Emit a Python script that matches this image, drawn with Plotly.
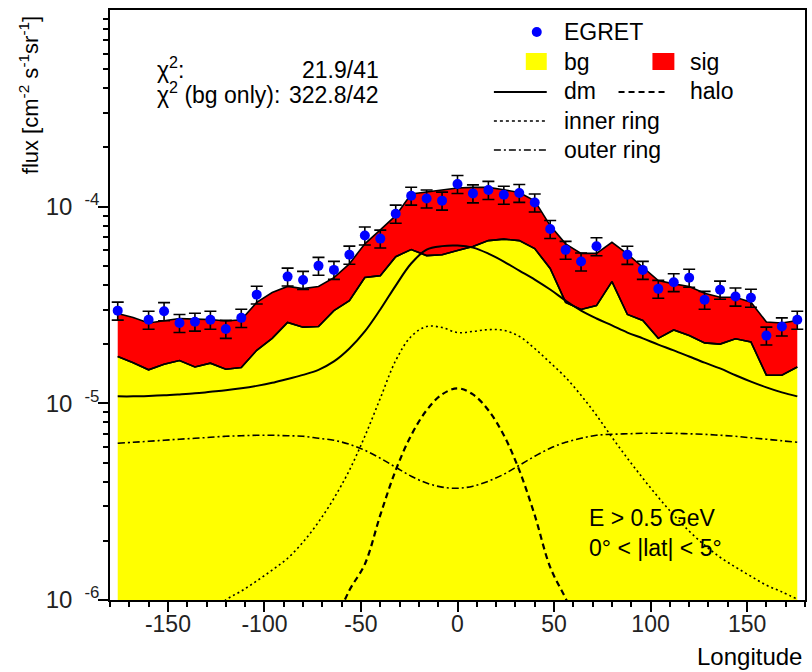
import plotly.graph_objects as go

# ---------------- data ----------------
X_MODEL = [-176, -168, -160, -152, -144, -136, -128, -120, -112, -104,
           -96, -88, -80, -72, -64, -56, -48, -40, -32, -24, -16, -8,
           0, 8, 16, 24, 32, 40, 48, 56, 64, 72, 80, 88,
           96, 104, 112, 120, 128, 136, 144, 152, 160, 168, 176]

TOTAL = [2.86e-5, 2.73e-5, 2.56e-5, 2.64e-5, 2.70e-5, 2.68e-5, 2.67e-5, 2.62e-5, 2.66e-5, 3.26e-5,
         3.66e-5, 3.93e-5, 3.83e-5, 3.93e-5, 4.36e-5, 5.12e-5, 6.47e-5, 7.62e-5, 9.00e-5, 1.16e-4, 1.19e-4, 1.216e-4,
         1.245e-4, 1.253e-4, 1.253e-4, 1.22e-4, 1.18e-4, 1.07e-4, 8.01e-5, 6.47e-5, 5.79e-5, 5.79e-5, 6.59e-5, 5.75e-5,
         4.92e-5, 4.21e-5, 4.05e-5, 3.93e-5, 3.63e-5, 3.46e-5, 3.46e-5, 3.27e-5, 2.59e-5, 2.56e-5, 2.64e-5]

BG = [1.73e-5, 1.61e-5, 1.48e-5, 1.58e-5, 1.65e-5, 1.53e-5, 1.60e-5, 1.49e-5, 1.52e-5, 1.86e-5,
      2.14e-5, 2.58e-5, 2.44e-5, 2.46e-5, 2.96e-5, 3.33e-5, 4.36e-5, 4.46e-5, 5.57e-5, 6.05e-5, 5.64e-5, 5.70e-5,
      5.98e-5, 6.27e-5, 6.72e-5, 6.84e-5, 6.72e-5, 6.12e-5, 4.85e-5, 3.26e-5, 3.00e-5, 3.14e-5, 4.16e-5, 2.83e-5,
      2.64e-5, 2.14e-5, 2.36e-5, 2.21e-5, 2.03e-5, 2.00e-5, 2.13e-5, 2.05e-5, 1.39e-5, 1.39e-5, 1.53e-5]

DM = [1.085e-5, 1.085e-5, 1.09e-5, 1.098e-5, 1.11e-5, 1.124e-5, 1.144e-5, 1.164e-5, 1.192e-5, 1.227e-5,
      1.271e-5, 1.331e-5, 1.395e-5, 1.48e-5, 1.633e-5, 1.90e-5, 2.32e-5, 3.0e-5, 3.97e-5, 5.14e-5, 6.05e-5, 6.30e-5,
      6.34e-5, 6.19e-5, 5.77e-5, 5.26e-5, 4.73e-5, 4.26e-5, 3.79e-5, 3.33e-5, 2.96e-5, 2.70e-5, 2.49e-5, 2.29e-5,
      2.14e-5, 1.99e-5, 1.86e-5, 1.73e-5, 1.61e-5, 1.505e-5, 1.39e-5, 1.29e-5, 1.206e-5, 1.137e-5, 1.085e-5]

OUTER_RING = [6.27e-6, 6.34e-6, 6.41e-6, 6.49e-6, 6.57e-6, 6.64e-6, 6.72e-6, 6.80e-6, 6.84e-6, 6.88e-6,
              6.88e-6, 6.84e-6, 6.80e-6, 6.64e-6, 6.49e-6, 6.19e-6, 5.77e-6, 5.26e-6, 4.73e-6, 4.26e-6, 3.93e-6, 3.75e-6,
              3.70e-6, 3.79e-6, 4.02e-6, 4.36e-6, 4.84e-6, 5.38e-6, 5.91e-6, 6.34e-6, 6.64e-6, 6.88e-6, 6.96e-6, 7.00e-6,
              7.04e-6, 7.04e-6, 7.04e-6, 7.00e-6, 6.96e-6, 6.88e-6, 6.80e-6, 6.68e-6, 6.57e-6, 6.45e-6, 6.34e-6]

X_HALO = [-72, -64, -56, -48, -40, -32, -24, -16, -8, 0, 8, 16, 24, 32, 40, 48, 56, 64, 72]
HALO = [4.7e-7, 7.4e-7, 1.12e-6, 1.52e-6, 2.70e-6, 4.57e-6, 6.88e-6, 9.22e-6, 1.11e-5, 1.192e-5,
        1.11e-5, 9.22e-6, 6.88e-6, 4.57e-6, 2.70e-6, 1.47e-6, 1.02e-6, 7.0e-7, 4.6e-7]

X_INNER = [-128, -120, -112, -104, -96, -88, -80, -72, -64, -56, -48, -40, -32, -24, -16, -8,
           0, 8, 16, 24, 32, 40, 48, 56, 64, 72, 80, 88, 96, 104, 112, 120, 128, 136, 144, 152, 160, 168, 176]
INNER_RING = [8.39e-7, 1.0e-6, 1.11e-6, 1.25e-6, 1.42e-6, 1.63e-6, 1.97e-6, 2.49e-6, 3.29e-6, 4.57e-6,
              6.80e-6, 1.06e-5, 1.65e-5, 2.19e-5, 2.46e-5, 2.43e-5,
              2.29e-5, 2.32e-5, 2.37e-5, 2.35e-5, 2.19e-5, 1.90e-5, 1.61e-5, 1.355e-5, 1.098e-5, 8.69e-6,
              6.72e-6, 5.26e-6, 4.16e-6, 3.33e-6, 2.70e-6, 2.24e-6, 1.90e-6, 1.65e-6, 1.47e-6, 1.32e-6,
              1.19e-6, 1.10e-6, 1.01e-6]

X_EGRET = [-176, -160, -152, -144, -136, -128, -120, -112, -104, -88, -80, -72, -64, -56, -48, -40, -32,
           -24, -16, -8, 0, 8, 16, 24, 32, 40, 48, 56, 64, 72, 88, 96, 104, 112, 120, 128, 136, 144, 152,
           160, 168, 176]
EGRET = [2.96e-5, 2.66e-5, 2.94e-5, 2.56e-5, 2.60e-5, 2.66e-5, 2.39e-5, 2.72e-5, 3.57e-5, 4.41e-5,
         4.24e-5, 5.00e-5, 4.77e-5, 5.70e-5, 7.13e-5, 6.88e-5, 9.21e-5,
         1.137e-4, 1.10e-4, 1.073e-4, 1.303e-4, 1.168e-4, 1.216e-4, 1.15e-4, 1.174e-4, 1.05e-4, 7.70e-5,
         6.03e-5, 5.26e-5, 6.29e-5, 5.69e-5, 4.77e-5, 3.82e-5, 4.13e-5, 4.35e-5, 3.36e-5, 3.78e-5, 3.49e-5,
         3.44e-5, 2.21e-5, 2.46e-5, 2.66e-5]
EGRET_ERR = [3.1e-6, 2.8e-6, 3.1e-6, 2.7e-6, 2.7e-6, 2.8e-6, 2.5e-6, 2.9e-6, 3.7e-6, 4.6e-6,
             4.5e-6, 5.2e-6, 5.0e-6, 6.0e-6, 7.5e-6, 7.2e-6, 9.7e-6,
             1.19e-5, 1.16e-5, 1.13e-5, 1.37e-5, 1.23e-5, 1.28e-5, 1.21e-5, 1.23e-5, 1.10e-5, 8.1e-6,
             6.3e-6, 5.5e-6, 6.6e-6, 6.0e-6, 5.0e-6, 4.0e-6, 4.3e-6, 4.6e-6, 3.5e-6, 4.0e-6, 3.7e-6,
             3.6e-6, 2.3e-6, 2.6e-6, 2.8e-6]

X_TICKS = [-150, -100, -50, 0, 50, 100, 150]
X_TICK_TEXT = ["-150", "-100", "-50", "0", "50", "100", "150"]
Y_TICKS = [1e-6, 1e-5, 1e-4]
Y_TICK_TEXT = ["10\u2002<sup>-6</sup>", "10\u2002<sup>-5</sup>", "10\u2002<sup>-4</sup>"]
Y_MINOR = [m * 10.0 ** e for e in (-6, -5, -4) for m in range(2, 10)]

FONT = "Liberation Sans, Arial, sans-serif"
YELLOW = "#FFFF00"
RED = "#FF0000"
BLUE = "#0000FF"

# ---------------- figure ----------------
fig = go.Figure()

fig.add_trace(go.Scatter(x=X_MODEL, y=BG, mode="lines", fill="tozeroy", fillcolor=YELLOW,
                         line=dict(color="black", width=1.6), name="bg", showlegend=False))
fig.add_trace(go.Scatter(x=X_MODEL, y=TOTAL, mode="lines", fill="tonexty", fillcolor=RED,
                         line=dict(color="black", width=1.6), name="sig", showlegend=False))
fig.add_trace(go.Scatter(x=X_MODEL, y=BG, mode="lines",
                         line=dict(color="black", width=1.6), showlegend=False))
fig.add_trace(go.Scatter(x=X_MODEL, y=DM, mode="lines", line=dict(color="black", width=2, shape="spline"),
                         name="dm", showlegend=False))
fig.add_trace(go.Scatter(x=X_HALO, y=HALO, mode="lines",
                         line=dict(color="black", width=2.2, dash="6px,4px", shape="spline"),
                         name="halo", showlegend=False))
fig.add_trace(go.Scatter(x=X_INNER, y=INNER_RING, mode="lines",
                         line=dict(color="black", width=1.6, dash="2px,3px", shape="spline"),
                         name="inner ring", showlegend=False))
fig.add_trace(go.Scatter(x=X_MODEL, y=OUTER_RING, mode="lines",
                         line=dict(color="black", width=1.6, dash="7px,3px,2px,3px", shape="spline"),
                         name="outer ring", showlegend=False))
fig.add_trace(go.Scatter(x=X_EGRET, y=EGRET, mode="markers",
                         marker=dict(color=BLUE, size=10, line=dict(width=0)),
                         error_y=dict(type="data", array=EGRET_ERR, color="black", thickness=1.6, width=6),
                         name="EGRET", showlegend=False))

# ---------------- layout helpers (decoration positions in pixels) ----------------
PL, PR, PT, PB = 110, 807, 10, 600


def px(x):
    return (x - PL) / (PR - PL)


def py(y):
    return (PB - y) / (PB - PT)


ann = []


def text(x, y, s, size=23, xanchor="left", **kw):
    ann.append(dict(x=px(x), y=py(y), xref="paper", yref="paper", text=s, showarrow=False,
                    xanchor=xanchor, yanchor="middle", font=dict(family=FONT, size=size, color="black"), **kw))


# chi^2 block
text(155, 68, "\u03c7<sup>2</sup>:")
text(155, 93, "\u03c7<sup>2</sup> (bg only):")
text(382, 70, "21.9/41", xanchor="right")
text(382, 95, "322.8/42", xanchor="right")

# legend texts
text(563, 32, "EGRET")
text(563, 62, "bg")
text(690, 62, "sig")
text(563, 91, "dm")
text(690, 91, "halo")
text(563, 121, "inner ring")
text(563, 150, "outer ring")

# info
text(588, 518, "E > 0.5 GeV")
text(588, 548, "0\u00b0 < |lat| < 5\u00b0")

# axis titles
text(806, 656, "Longitude", size=24, xanchor="right")
ann.append(dict(x=px(29), y=py(95), xref="paper", yref="paper",
                text="flux [cm<sup>-2</sup> s<sup>-1</sup>sr<sup>-1</sup>]", showarrow=False,
                textangle=-90, xanchor="center", yanchor="middle",
                font=dict(family=FONT, size=22, color="black")))

shapes = []
# EGRET marker
shapes.append(dict(type="circle", xref="paper", yref="paper", x0=px(533), x1=px(543), y0=py(37), y1=py(27),
                   fillcolor=BLUE, line=dict(width=0)))
# bg / sig boxes
shapes.append(dict(type="rect", xref="paper", yref="paper", x0=px(527), x1=px(548), y0=py(70), y1=py(53),
                   fillcolor=YELLOW, line=dict(width=0)))
shapes.append(dict(type="rect", xref="paper", yref="paper", x0=px(654), x1=px(676), y0=py(70), y1=py(53),
                   fillcolor=RED, line=dict(width=0)))
# legend lines
shapes.append(dict(type="line", xref="paper", yref="paper", x0=px(495), x1=px(548), y0=py(92), y1=py(92),
                   line=dict(color="black", width=2)))
shapes.append(dict(type="line", xref="paper", yref="paper", x0=px(620), x1=px(669), y0=py(92), y1=py(92),
                   line=dict(color="black", width=2, dash="6px,4px")))
shapes.append(dict(type="line", xref="paper", yref="paper", x0=px(495), x1=px(548), y0=py(121), y1=py(121),
                   line=dict(color="black", width=1.6, dash="3px,3px")))
shapes.append(dict(type="line", xref="paper", yref="paper", x0=px(495), x1=px(548), y0=py(150), y1=py(150),
                   line=dict(color="black", width=1.6, dash="7px,3px,2px,3px")))

fig.update_layout(
    width=812, height=672,
    margin=dict(l=PL, r=812 - PR, t=PT, b=672 - PB),
    paper_bgcolor="white", plot_bgcolor="white",
    font=dict(family=FONT, color="#222222"),
    annotations=ann, shapes=shapes, showlegend=False,
)

fig.update_xaxes(
    range=[-180, 180], tickvals=X_TICKS, ticktext=X_TICK_TEXT,
    ticks="outside", ticklen=10, tickwidth=1.5, tickcolor="black",
    tickfont=dict(size=23, family=FONT, color="#222222"), ticklabelstandoff=-8,
    showline=True, linecolor="black", linewidth=1.8, mirror=True,
    showgrid=False, zeroline=False,
    minor=dict(dtick=10, tick0=0, ticks="outside", ticklen=5, tickwidth=1.5, tickcolor="black", showgrid=False),
)
fig.update_yaxes(
    type="log", range=[-6, -3], tickvals=Y_TICKS, ticktext=Y_TICK_TEXT,
    ticks="outside", ticklen=10, tickwidth=1.5, tickcolor="black",
    tickfont=dict(size=24, family=FONT, color="#222222"), ticklabelstandoff=-6,
    showline=True, linecolor="black", linewidth=1.8, mirror=True,
    showgrid=False, zeroline=False,
    minor=dict(tickvals=Y_MINOR, ticks="outside", ticklen=5, tickwidth=1.5, tickcolor="black", showgrid=False),
)

fig.write_html("out.html")
